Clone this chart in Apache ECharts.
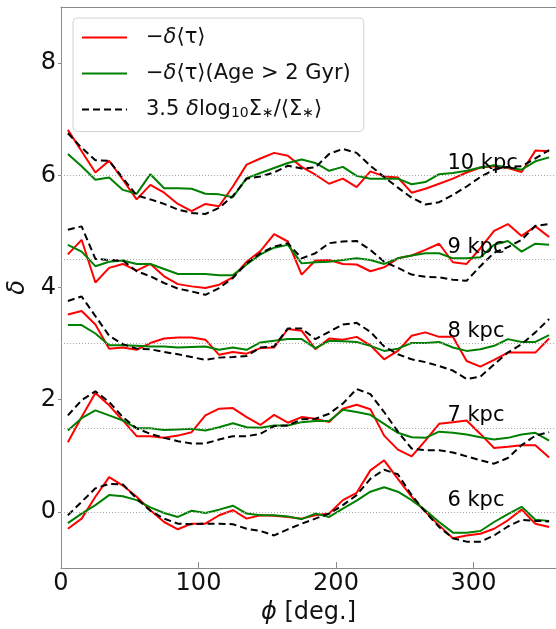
<!DOCTYPE html>
<html><head><meta charset="utf-8">
<script src="https://cdn.jsdelivr.net/npm/echarts@6.0.0/dist/echarts.min.js"></script>
<style>html,body{margin:0;padding:0;background:#fff}#c{width:556px;height:629px}</style>
</head><body><div id="c"></div>
<script>
const phi = [5,15,25,35,45,55,65,75,85,95,105,115,125,135,145,155,165,175,185,195,205,215,225,235,245,255,265,275,285,295,305,315,325,335,345,355];
const xTicks = [0,100,200,300];
const yTicks = [0,2,4,6,8];
const offsets = [0,1.5,3,4.5,6];
const kpcLabels = ['6 kpc','7 kpc','8 kpc','9 kpc','10 kpc'];
const seriesNames = ['−δ⟨τ⟩','−δ⟨τ⟩(Age > 2 Gyr)','3.5 δlog10Σ∗/⟨Σ∗⟩'];

const red6 = [-0.30,-0.12,0.27,0.62,0.47,0.27,0.03,-0.18,-0.31,-0.21,-0.21,-0.06,0.03,-0.12,-0.06,-0.07,-0.09,-0.12,-0.06,-0.03,0.21,0.34,0.74,0.92,0.59,0.27,0.00,-0.24,-0.47,-0.42,-0.39,-0.30,-0.15,0.04,-0.21,-0.27];
const green6 = [-0.20,-0.03,0.12,0.30,0.28,0.21,0.08,-0.02,-0.09,0.02,-0.02,0.04,0.11,-0.03,-0.06,-0.06,-0.08,-0.13,-0.03,-0.09,0.06,0.20,0.36,0.44,0.36,0.21,0.03,-0.18,-0.37,-0.37,-0.34,-0.18,-0.04,0.09,-0.14,-0.16];
const black6 = [-0.06,0.18,0.42,0.50,0.49,0.24,0.02,-0.12,-0.21,-0.22,-0.21,-0.21,-0.22,-0.30,-0.34,-0.42,-0.31,-0.21,-0.12,-0.03,0.12,0.30,0.59,0.75,0.67,0.30,0.00,-0.27,-0.47,-0.53,-0.53,-0.42,-0.26,-0.14,-0.16,-0.17];

const red7 = [1.24,1.69,2.12,1.90,1.63,1.35,1.35,1.32,1.36,1.42,1.72,1.84,1.85,1.69,1.55,1.73,1.59,1.69,1.66,1.60,1.84,1.91,1.83,1.36,1.11,0.99,1.27,1.57,1.60,1.63,1.39,1.14,1.16,1.19,1.19,0.97];
const green7 = [1.45,1.67,1.81,1.72,1.63,1.49,1.49,1.46,1.47,1.48,1.45,1.51,1.58,1.51,1.50,1.54,1.54,1.60,1.62,1.62,1.82,1.78,1.73,1.57,1.41,1.33,1.32,1.43,1.41,1.38,1.33,1.29,1.32,1.38,1.41,1.27];
const black7 = [1.72,1.99,2.15,1.96,1.69,1.49,1.39,1.32,1.26,1.22,1.22,1.29,1.35,1.35,1.39,1.53,1.54,1.65,1.66,1.75,1.93,2.19,2.10,1.78,1.43,1.13,1.10,1.10,1.06,0.99,0.92,0.86,0.96,1.19,1.36,1.42];

const red8 = [3.52,3.58,3.34,2.91,2.93,2.89,3.01,3.09,3.11,3.11,3.07,2.80,2.85,2.82,2.92,2.93,3.26,3.23,2.90,3.09,3.07,3.12,2.97,2.72,2.87,3.14,3.20,3.12,3.12,2.69,2.59,2.71,2.84,2.84,2.84,3.09];
const green8 = [3.33,3.33,3.18,2.97,2.97,2.96,2.95,2.95,2.93,2.94,2.95,2.89,2.93,2.89,3.02,3.05,3.08,3.08,2.92,3.05,3.04,3.03,2.96,2.87,2.91,3.01,3.01,3.03,2.93,2.87,2.90,2.96,3.08,3.03,3.03,3.15];
const black8 = [3.76,3.84,3.49,3.14,2.99,2.91,2.90,2.85,2.81,2.76,2.71,2.75,2.76,2.78,2.93,2.95,3.27,3.27,3.08,3.21,3.34,3.37,3.21,2.95,2.81,2.72,2.67,2.60,2.52,2.37,2.41,2.63,2.84,2.99,3.20,3.44];

const red9 = [4.59,4.85,4.09,4.35,4.42,4.30,4.42,4.20,4.06,4.02,3.99,4.05,4.18,4.46,4.65,4.95,4.82,4.23,4.48,4.49,4.42,4.41,4.29,4.36,4.52,4.57,4.67,4.78,4.45,4.42,4.70,5.01,5.13,4.92,5.09,4.90];
const green9 = [4.76,4.64,4.38,4.46,4.48,4.42,4.42,4.33,4.24,4.24,4.24,4.22,4.22,4.41,4.59,4.71,4.76,4.43,4.45,4.46,4.49,4.52,4.49,4.42,4.52,4.57,4.61,4.61,4.52,4.52,4.54,4.76,4.83,4.64,4.78,4.76];
const black9 = [5.03,5.09,4.51,4.49,4.48,4.29,4.20,4.08,3.98,3.93,3.87,3.99,4.17,4.43,4.61,4.73,4.79,4.52,4.61,4.79,4.82,4.83,4.67,4.46,4.35,4.23,4.19,4.18,4.14,4.12,4.38,4.62,4.72,4.85,5.10,5.13];

const red10 = [6.81,6.43,6.05,6.26,5.92,5.57,5.83,5.69,5.49,5.36,5.49,5.45,5.80,6.19,6.30,6.40,6.35,6.15,6.01,5.85,5.94,5.79,6.07,5.98,5.96,5.69,5.76,5.85,5.94,6.05,6.14,6.16,6.13,6.06,6.44,6.43];
const green10 = [6.38,6.16,5.92,5.96,5.74,5.67,6.02,5.77,5.77,5.76,5.67,5.66,5.61,5.95,6.04,6.13,6.22,6.28,6.22,6.08,6.15,5.99,5.94,5.94,5.94,5.84,5.88,6.02,6.04,6.08,6.14,6.18,6.14,6.10,6.25,6.32];
const black10 = [6.75,6.49,6.27,6.26,5.95,5.64,5.57,5.49,5.39,5.33,5.31,5.42,5.63,5.94,5.98,6.05,6.17,6.12,6.14,6.38,6.47,6.40,6.17,5.97,5.78,5.60,5.48,5.52,5.65,5.80,5.97,6.10,6.15,6.16,6.30,6.45];

const redSets = [red6, red7, red8, red9, red10];
const greenSets = [green6, green7, green8, green9, green10];
const blackSets = [black6, black7, black8, black9, black10];

const FONT = 'DejaVu Sans';
const AXIS_COLOR = '#8a8a8a';
const pairs = arr => phi.map((p, i) => [p, arr[i]]);

const series = [];
series.push({
  type: 'line', data: [], silent: true, z: 1,
  markLine: {
    silent: true, symbol: ['none', 'none'], label: {show: false},
    lineStyle: {type: [1, 2], color: '#aaaaaa', width: 1},
    data: offsets.map(v => ({yAxis: v}))
  }
});
const styles = [
  {color: '#ff0000', type: 'solid'},
  {color: '#008000', type: 'solid'},
  {color: '#000000', type: [7, 4]}
];
[redSets, greenSets, blackSets].forEach((sets, k) => {
  sets.forEach(arr => {
    series.push({
      name: seriesNames[k], type: 'line', data: pairs(arr),
      symbol: 'none', z: 2 + k,
      lineStyle: {color: styles[k].color, width: 2, type: styles[k].type},
      itemStyle: {color: styles[k].color}
    });
  });
});
const LABEL_PHI = 281, LABEL_DY = 0.21;
series.push({
  type: 'scatter', symbolSize: 0, silent: true, z: 10,
  itemStyle: {opacity: 1},
  data: offsets.map(o => [LABEL_PHI, o + LABEL_DY]),
  label: {
    show: true, position: 'right', distance: 0, opacity: 1,
    formatter: p => kpcLabels[p.dataIndex],
    fontFamily: FONT, fontSize: 21, color: '#000'
  }
});

const legendRich = {
  n: {fontFamily: FONT, fontSize: 21, color: '#111'},
  i: {fontFamily: FONT, fontSize: 21, color: '#111', fontStyle: 'italic'},
  s: {fontFamily: FONT, fontSize: 14, color: '#111', padding: [8, 0, 0, 0]}
};
const legendFmt = name => {
  if (name === seriesNames[0]) return '{n|−}{i|δ}{n|⟨τ⟩}';
  if (name === seriesNames[1]) return '{n|−}{i|δ}{n|⟨τ⟩(Age > 2 Gyr)}';
  return '{n|3.5 }{i|δ}{n|log}{s|10}{n|Σ}{s|∗}{n|/⟨Σ}{s|∗}{n|⟩}';
};

const option = {
  animation: false,
  backgroundColor: '#fff',
  grid: {left: 61, right: 0, top: 7, bottom: 61, containLabel: false, outerBoundsMode: 'none'},
  legend: {
    data: seriesNames, orient: 'vertical', left: 73, top: 18,
    itemWidth: 45, itemHeight: 14, itemGap: 15,
    padding: [9, 13, 11, 8],
    backgroundColor: 'rgba(255,255,255,0.85)', borderColor: '#d4d4d4', borderWidth: 1, borderRadius: 4,
    itemStyle: {color: 'rgba(0,0,0,0)', borderWidth: 0, opacity: 0},
    textStyle: {fontFamily: FONT, fontSize: 21, color: '#111', padding: [0, 0, 0, 14], rich: legendRich},
    formatter: legendFmt
  },
  xAxis: [{
    type: 'value', min: 0, max: 360, position: 'bottom',
    axisLine: {show: true, onZero: false, lineStyle: {color: AXIS_COLOR, width: 1}},
    axisTick: {show: true, inside: true, length: 6, customValues: xTicks, lineStyle: {color: AXIS_COLOR}},
    axisLabel: {customValues: xTicks, fontFamily: FONT, fontSize: 24, color: '#111', margin: 4},
    splitLine: {show: false},
    name: '{i|ϕ} [deg.]', nameLocation: 'middle', nameGap: 24,
    nameTextStyle: {fontFamily: FONT, fontSize: 24, color: '#111',
      rich: {i: {fontFamily: FONT, fontSize: 24, color: '#111', fontStyle: 'italic'}}}
  }, {
    type: 'value', min: 0, max: 360, position: 'top',
    axisLine: {show: true, onZero: false, lineStyle: {color: AXIS_COLOR, width: 1}},
    axisTick: {show: false}, axisLabel: {show: false}, splitLine: {show: false}
  }],
  yAxis: {
    type: 'value', min: -1, max: 9,
    axisLine: {show: true, onZero: false, lineStyle: {color: AXIS_COLOR, width: 1}},
    axisTick: {show: true, inside: false, length: 3, customValues: yTicks, lineStyle: {color: AXIS_COLOR}},
    axisLabel: {customValues: yTicks, fontFamily: FONT, fontSize: 24, color: '#111', margin: 5},
    splitLine: {show: false},
    name: 'δ', nameLocation: 'middle', nameRotate: 90, nameGap: 30,
    nameTextStyle: {fontFamily: FONT, fontSize: 24, color: '#111', fontStyle: 'italic'}
  },
  series: series
};
const chart = echarts.init(document.getElementById('c'), null, {renderer: 'canvas'});
chart.setOption(option);
</script></body></html>
